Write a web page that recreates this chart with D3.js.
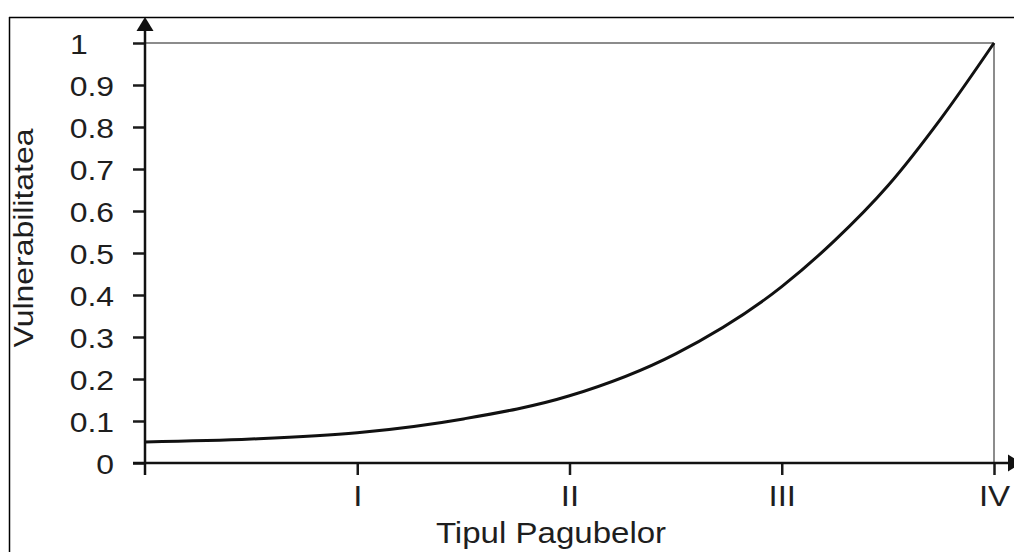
<!DOCTYPE html>
<html>
<head>
<meta charset="utf-8">
<script src="https://cdn.jsdelivr.net/npm/d3@7"></script>
<style>
  body { margin: 0; background: #fff; }
  svg { display: block; font-family: "Liberation Sans", Arial, sans-serif; }
  .tick text { fill: #1e1e1e; }
</style>
</head>
<body>
<svg id="chart" width="1014" height="552"></svg>
<script>
// data
var damageTypes = ["", "I", "II", "III", "IV"];
var curveX = [0, 0.5, 1, 1.5, 2, 2.5, 3, 3.25, 3.5, 3.75, 4];
var curveY = [0.05, 0.057, 0.072, 0.105, 0.16, 0.26, 0.42, 0.53, 0.66, 0.82, 1.0];
var yTicks = [0, 0.1, 0.2, 0.3, 0.4, 0.5, 0.6, 0.7, 0.8, 0.9, 1];
var yTickLabels = ["0", "0.1", "0.2", "0.3", "0.4", "0.5", "0.6", "0.7", "0.8", "0.9", "1"];

var svg = d3.select("#chart");
var stretch = 1.14;

var x = d3.scaleLinear().domain([0, 4]).range([145, 994]);
var y = d3.scaleLinear().domain([0, 1]).range([463, 43]);

// outer border (top and left only)
svg.append("line").attr("x1", 9).attr("y1", 17.5).attr("x2", 1014).attr("y2", 17.5)
    .attr("stroke", "#000").attr("stroke-width", 1.5);
svg.append("line").attr("x1", 9.5).attr("y1", 17).attr("x2", 9.5).attr("y2", 552)
    .attr("stroke", "#000").attr("stroke-width", 1.5);

// frame top + right
svg.append("line").attr("x1", x(0)).attr("y1", y(1)).attr("x2", x(4)).attr("y2", y(1))
    .attr("stroke", "#666").attr("stroke-width", 1.5);
svg.append("line").attr("x1", x(4)).attr("y1", y(1)).attr("x2", x(4)).attr("y2", y(0))
    .attr("stroke", "#666").attr("stroke-width", 1.5);

// y axis
var yAxis = d3.axisLeft(y).tickValues(yTicks)
    .tickFormat(function(d, i){ return yTickLabels[i]; })
    .tickSize(12).tickSizeOuter(0);
var gy = svg.append("g").attr("transform", "translate(" + x(0) + ",0)").call(yAxis);
gy.select(".domain").remove();
gy.selectAll(".tick line").attr("stroke", "#1a1a1a").attr("stroke-width", 2.5);
gy.selectAll(".tick text")
    .attr("font-size", 28)
    .attr("dy", "0.36em")
    .attr("text-anchor", function(d){ return d === 1 ? "start" : "end"; })
    .attr("x", function(d){ return d === 1 ? -75 / stretch : -31 / stretch; })
    .attr("transform", "scale(" + stretch + ",1)");

// x axis
var xAxis = d3.axisBottom(x).tickValues([1, 2, 3, 4])
    .tickFormat(function(d){ return damageTypes[d]; })
    .tickSize(12).tickSizeOuter(0).tickPadding(10);
var gx = svg.append("g").attr("transform", "translate(0," + y(0) + ")").call(xAxis);
gx.select(".domain").remove();
gx.selectAll(".tick line").attr("stroke", "#1a1a1a").attr("stroke-width", 2.5);
gx.selectAll(".tick text")
    .attr("font-size", 29)
    .attr("transform", "scale(" + stretch + ",1)")
    .attr("x", 0);

// axis lines with arrows
svg.append("line").attr("x1", x(0)).attr("y1", y(0) + 12).attr("x2", x(0)).attr("y2", 28)
    .attr("stroke", "#111").attr("stroke-width", 2.5);
svg.append("path").attr("d", "M" + x(0) + ",17 L" + (x(0) - 8.5) + ",31 L" + (x(0) + 8.5) + ",31 Z")
    .attr("fill", "#111");
svg.append("line").attr("x1", x(0) - 12).attr("y1", y(0)).attr("x2", 1010).attr("y2", y(0))
    .attr("stroke", "#111").attr("stroke-width", 2.5);
svg.append("path").attr("d", "M1022," + y(0) + " L1008," + (y(0) - 8.5) + " L1008," + (y(0) + 8.5) + " Z")
    .attr("fill", "#111");

// curve
var pts = curveX.map(function(d, i){ return [d, curveY[i]]; });
var line = d3.line().x(function(d){ return x(d[0]); }).y(function(d){ return y(d[1]); })
    .curve(d3.curveMonotoneX);
svg.append("path").datum(pts).attr("d", line)
    .attr("fill", "none").attr("stroke", "#111").attr("stroke-width", 3);

// axis titles
svg.append("text").attr("transform", "translate(551,543) scale(" + stretch + ",1)")
    .attr("text-anchor", "middle").attr("font-size", 29).attr("fill", "#1e1e1e")
    .text("Tipul Pagubelor");
svg.append("text").attr("transform", "translate(33,238) rotate(-90) scale(" + stretch + ",1)")
    .attr("text-anchor", "middle").attr("font-size", 28).attr("fill", "#1e1e1e")
    .text("Vulnerabilitatea");
</script>
</body>
</html>
